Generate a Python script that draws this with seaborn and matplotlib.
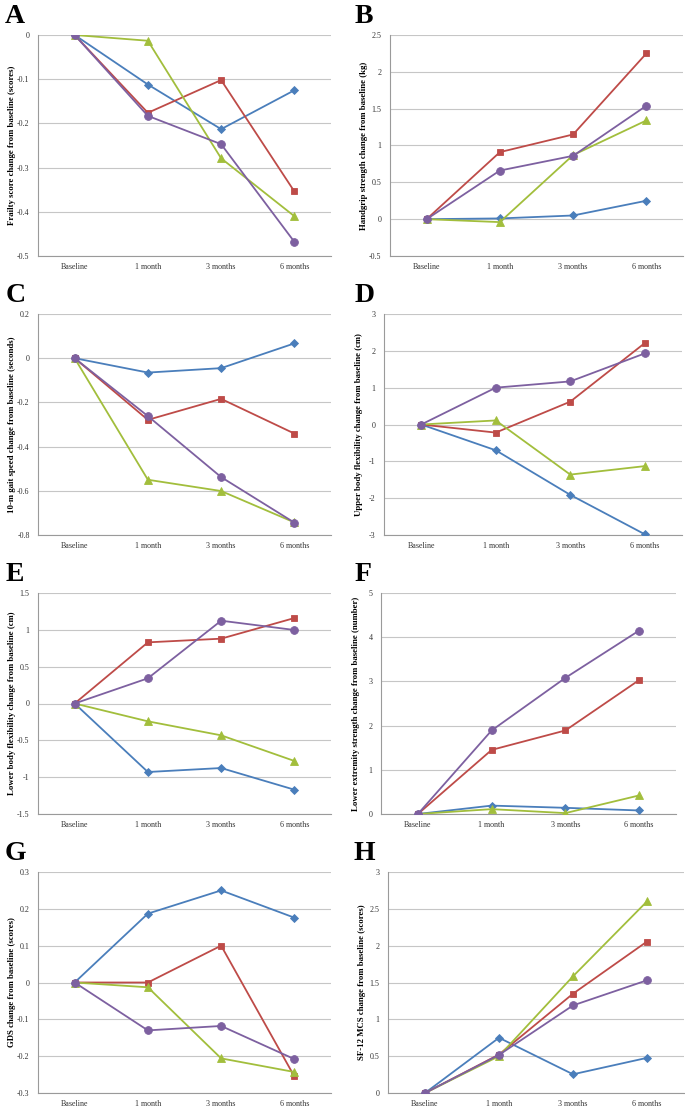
import numpy as np
import pandas as pd
import matplotlib
matplotlib.use("Agg")
import matplotlib.pyplot as plt
from matplotlib.ticker import FuncFormatter, MultipleLocator
import seaborn as sns

# ---------------- data ----------------
timepoints = ["Baseline", "1 month", "3 months", "6 months"]
series_names = ["Series 1", "Series 2", "Series 3", "Series 4"]

panel_letters = ["A", "B", "C", "D", "E", "F", "G", "H"]
y_labels = [
    "Frailty score change from baseline (scores)",
    "Handgrip strength change from baseline (kg)",
    "10-m gait speed change from baseline (seconds)",
    "Upper body flexibility change from baseline (cm)",
    "Lower body flexibility change from baseline (cm)",
    "Lower extremity strength change from baseline (number)",
    "GDS change from baseline (scores)",
    "SF-12 MCS change from baseline (scores)",
]
y_ranges = [(-0.5, 0, 0.1), (-0.5, 2.5, 0.5), (-0.8, 0.2, 0.2), (-3, 3, 1),
            (-1.5, 1.5, 0.5), (0, 5, 1), (-0.3, 0.3, 0.1), (0, 3, 0.5)]

# values per panel: [blue, red, green, purple]
frailty = [[0, -0.112, -0.213, -0.125],
           [0, -0.176, -0.102, -0.354],
           [0, -0.013, -0.279, -0.410],
           [0, -0.183, -0.247, -0.468]]
handgrip = [[0, 0.01, 0.05, 0.25],
            [0, 0.91, 1.15, 2.25],
            [0, -0.04, 0.87, 1.34],
            [0, 0.66, 0.86, 1.54]]
gait = [[0, -0.065, -0.045, 0.067],
        [0, -0.279, -0.184, -0.341],
        [0, -0.550, -0.601, -0.743],
        [0, -0.262, -0.538, -0.744]]
upper_flex = [[0, -0.70, -1.91, -2.98],
              [0, -0.22, 0.62, 2.21],
              [0, 0.11, -1.36, -1.13],
              [0, 1.00, 1.17, 1.93]]
lower_flex = [[0, -0.93, -0.876, -1.17],
              [0, 0.83, 0.88, 1.16],
              [0, -0.242, -0.432, -0.78],
              [0, 0.342, 1.124, 0.998]]
lower_strength = [[0, 0.19, 0.14, 0.08],
                  [0, 1.45, 1.89, 3.03],
                  [0, 0.11, 0.02, 0.42],
                  [0, 1.89, 3.08, 4.15]]
gds = [[0, 0.187, 0.25, 0.176],
       [0, 0.0, 0.1, -0.255],
       [0, -0.013, -0.206, -0.243],
       [0, -0.13, -0.118, -0.208]]
sf12_mcs = [[0, 0.75, 0.254, 0.477],
            [0, 0.522, 1.348, 2.056],
            [0, 0.50, 1.584, 2.601],
            [0, 0.517, 1.189, 1.53]]
panels_data = [frailty, handgrip, gait, upper_flex, lower_flex,
               lower_strength, gds, sf12_mcs]

# ---------------- style ----------------
colors = ["#4A7EBB", "#BE4B48", "#A2BE3C", "#7D60A0"]
markers = ["D", "s", "^", "o"]
msizes = [4.0, 5.0, 5.2, 5.6]

sns.set_theme(style="white")
plt.rcParams["font.family"] = ["Liberation Serif", "DejaVu Serif"]

W, H = 685, 1107
fig = plt.figure(figsize=(W / 100, H / 100), dpi=100)

# axes boxes in pixels: left, right, top, bottom
boxes = [(38, 331, 35, 256), (390, 683, 35, 256),
         (38, 331, 314, 535), (384, 682, 314, 535),
         (38, 331, 593, 814), (381, 676, 593, 814),
         (38, 331, 872, 1093), (388, 684, 872, 1093)]
letter_pos = [(5, 23), (355, 23), (6, 302), (355, 302),
              (6, 581), (355, 581), (5, 860), (354, 860)]

fmt = FuncFormatter(lambda v, p: "%g" % round(v, 6))

for i, data in enumerate(panels_data):
    l, r, t, b = boxes[i]
    ax = fig.add_axes([l / W, 1 - b / H, (r - l) / W, (b - t) / H])
    rows = []
    for s, vals in enumerate(data):
        for k, v in enumerate(vals):
            rows.append({"x": k, "value": v, "series": series_names[s]})
    df = pd.DataFrame(rows)
    for s, name in enumerate(series_names):
        sns.lineplot(data=df[df["series"] == name], x="x", y="value",
                     color=colors[s], marker=markers[s], markersize=msizes[s],
                     markeredgewidth=0.6, markeredgecolor=colors[s],
                     linewidth=1.3, ax=ax, legend=False, zorder=3 + s)
    lo, hi, step = y_ranges[i]
    ax.set_ylim(lo, hi)
    ax.yaxis.set_major_locator(MultipleLocator(step))
    ax.yaxis.set_major_formatter(fmt)
    ax.set_xlim(-0.5, len(timepoints) - 0.5)
    ax.set_xticks(range(len(timepoints)))
    ax.set_xticklabels(timepoints)
    ax.grid(axis="y", color="#c6c6c6", linewidth=0.8)
    ax.grid(axis="x", visible=False)
    for sp in ["top", "right"]:
        ax.spines[sp].set_visible(False)
    for sp in ["left", "bottom"]:
        ax.spines[sp].set_color("#9a9a9a")
        ax.spines[sp].set_linewidth(0.8)
    ax.tick_params(axis="both", length=0, labelsize=5.8, colors="#333333",
                   pad=5)
    ax.tick_params(axis="y", pad=6)
    ax.set_xlabel("")
    ax.set_ylabel(y_labels[i], fontsize=6.3, fontweight="bold", color="black")
    ax.yaxis.set_label_coords(-21.5 / (r - l), 0.5)
    lx, ly = letter_pos[i]
    fig.text(lx / W, 1 - ly / H, panel_letters[i], fontsize=20,
             fontweight="bold", color="black", ha="left", va="baseline")

fig.savefig("out.png", dpi=100, facecolor="white")
